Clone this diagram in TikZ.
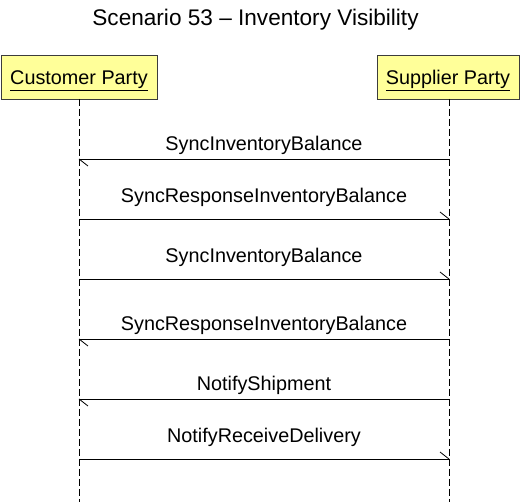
\documentclass[tikz,border=0pt]{standalone}
\usepackage{fontspec}
\setmainfont{Liberation Sans}
\definecolor{partyfill}{RGB}{255,255,153}
\definecolor{partyline}{RGB}{60,60,60}
\begin{document}
\begin{tikzpicture}[x=1pt,y=-1pt,
  party/.style={draw=partyline,fill=partyfill,line width=0.8pt,minimum height=44pt,inner sep=0pt,text height=16pt,text depth=0pt,font=\fontsize{19.8}{24}\selectfont},
  lifeline/.style={line width=0.8pt,dash pattern=on 7pt off 3pt},
  msg/.style={line width=0.8pt},
  barb/.style={line width=0.8pt},
  lbl/.style={anchor=base,inner sep=0pt,font=\fontsize{19.8}{24}\selectfont},
  ttl/.style={anchor=base,inner sep=0pt,font=\fontsize{22.6}{27}\selectfont}]
\useasboundingbox (0,0) rectangle (523,502);
\node[ttl] (title) at (255.5,26) {Scenario 53 – Inventory Visibility};
\node[party,minimum width=156pt] (cust) at (79,77) {\underline{Customer Party}};
\node[party,minimum width=142pt] (supp) at (448,77) {\underline{Supplier Party}};
\coordinate (ctop) at (79,99);
\coordinate (stop) at (449,99);
\coordinate (cend) at (79,502);
\coordinate (send) at (449,502);
\draw[lifeline] (ctop) -- (cend);
\draw[lifeline] (stop) -- (send);
% message levels
\foreach \i/\y in {1/159,2/219,3/279,4/339,5/399,6/459}{
  \coordinate (c\i) at (79,\y);
  \coordinate (s\i) at (449,\y);
}
% 1: supplier -> customer
\draw[msg] (s1) -- (c1);
\draw[barb] (c1) -- ++(9,7);
\node[lbl] (l1) at (264,151) {SyncInventoryBalance};
% 2: customer -> supplier
\draw[msg] (c2) -- (s2);
\draw[barb] (s2) -- ++(-9,-7);
\node[lbl] (l2) at (264,203) {SyncResponseInventoryBalance};
% 3: customer -> supplier
\draw[msg] (c3) -- (s3);
\draw[barb] (s3) -- ++(-9,-7);
\node[lbl] (l3) at (264,263) {SyncInventoryBalance};
% 4: supplier -> customer
\draw[msg] (s4) -- (c4);
\draw[barb] (c4) -- ++(9,7);
\node[lbl] (l4) at (264,331) {SyncResponseInventoryBalance};
% 5: supplier -> customer
\draw[msg] (s5) -- (c5);
\draw[barb] (c5) -- ++(9,7);
\node[lbl] (l5) at (264,391) {NotifyShipment};
% 6: customer -> supplier
\draw[msg] (c6) -- (s6);
\draw[barb] (s6) -- ++(-9,-7);
\node[lbl] (l6) at (264,443) {NotifyReceiveDelivery};
\end{tikzpicture}
\end{document}
